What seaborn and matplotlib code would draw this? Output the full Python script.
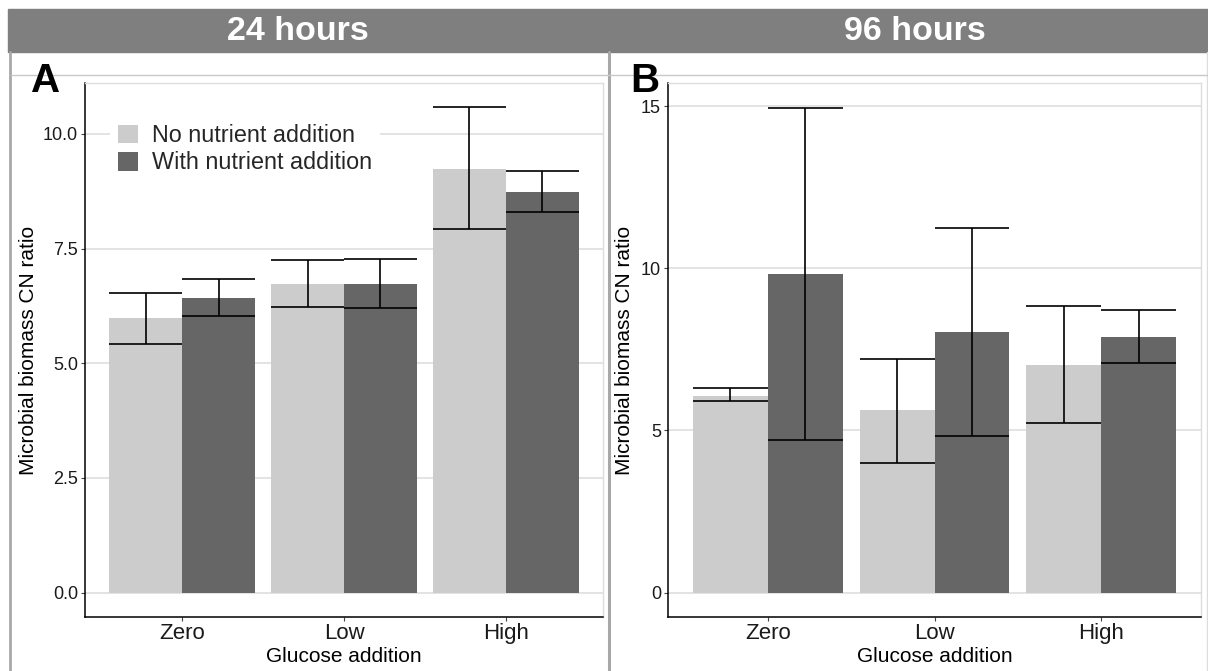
import numpy as np
import pandas as pd
import matplotlib
matplotlib.use("Agg")
import matplotlib.pyplot as plt
from matplotlib.patches import Rectangle
from matplotlib.lines import Line2D
from matplotlib.ticker import MultipleLocator
import seaborn as sns

# ---------------- data ----------------
glucose = ["Zero", "Low", "High"]
nutrient = ["No nutrient addition", "With nutrient addition"]

# 24 hours (panel A)
a_no_mean = [5.98, 6.73, 9.24]
a_no_lo = [5.43, 6.22, 7.92]
a_no_hi = [6.54, 7.25, 10.58]
a_with_mean = [6.43, 6.73, 8.73]
a_with_lo = [6.04, 6.20, 8.30]
a_with_hi = [6.84, 7.28, 9.20]

# 96 hours (panel B)
b_no_mean = [6.05, 5.62, 7.03]
b_no_lo = [5.92, 4.00, 5.24]
b_no_hi = [6.32, 7.21, 8.85]
b_with_mean = [9.83, 8.04, 7.89]
b_with_lo = [4.72, 4.82, 7.09]
b_with_hi = [14.95, 11.23, 8.70]

strip_titles = ["24 hours", "96 hours"]
panel_tags = ["A", "B"]

light = "#CCCCCC"
dark = "#666666"

def make_df(nm, nl, nh, wm, wl, wh):
    return pd.DataFrame({
        "glucose": glucose + glucose,
        "nutrient": [nutrient[0]] * 3 + [nutrient[1]] * 3,
        "mean": nm + wm,
        "lo": nl + wl,
        "hi": nh + wh,
    })

df_a = make_df(a_no_mean, a_no_lo, a_no_hi, a_with_mean, a_with_lo, a_with_hi)
df_b = make_df(b_no_mean, b_no_lo, b_no_hi, b_with_mean, b_with_lo, b_with_hi)

# ---------------- figure ----------------
sns.set_style("white")
plt.rcParams["font.family"] = ["Liberation Sans", "DejaVu Sans"]

W, H = 1208, 671
fig = plt.figure(figsize=(W / 100, H / 100), dpi=100)
fig.patch.set_facecolor("white")

def fx(x):
    return x / W

def fy(y):
    return 1 - y / H

# strip
fig.patches.append(Rectangle((fx(8), fy(52)), fx(1208 - 8), (52 - 9) / H,
                             transform=fig.transFigure, color="#7F7F7F", zorder=0))
# frame lines
fig.lines.append(Line2D([fx(10), fx(10)], [fy(52), fy(671)], transform=fig.transFigure,
                        color="#A8A8A8", lw=2.0))
fig.lines.append(Line2D([fx(608.5), fx(608.5)], [fy(52), fy(671)], transform=fig.transFigure,
                        color="#A8A8A8", lw=2.2))
fig.lines.append(Line2D([fx(1207), fx(1207)], [fy(52), fy(671)], transform=fig.transFigure,
                        color="#DDDDDD", lw=1.0))
fig.lines.append(Line2D([fx(11), fx(1207)], [fy(75), fy(75)], transform=fig.transFigure,
                        color="#C8C8C8", lw=1.0))

for cx, t in zip([298, 915], strip_titles):
    fig.text(fx(cx), fy(31), t, color="white", fontsize=24.5, fontweight="bold",
             ha="center", va="center")
for tx, t in zip([31, 630], panel_tags):
    fig.text(fx(tx), fy(92), t, color="black", fontsize=29, fontweight="bold",
             ha="left", va="baseline")

axA = fig.add_axes([fx(85), fy(617), (603 - 85) / W, (617 - 83) / H])
axB = fig.add_axes([fx(668), fy(617), (1201 - 668) / W, (617 - 83) / H])

def draw(ax, df, ylim, step, ylab_x, legend):
    sns.barplot(data=df, x="glucose", y="mean", hue="nutrient", order=glucose,
                hue_order=nutrient, palette=[light, dark], width=0.9, gap=0,
                errorbar=None, saturation=1, linewidth=0, ax=ax, legend=legend,
                zorder=2)
    for ci, cont in enumerate(ax.containers):
        for bar in cont:
            x0 = bar.get_x()
            w = bar.get_width()
            xc = x0 + w / 2
            gi = int(round(xc))
            row = df[(df["glucose"] == glucose[gi]) & (df["nutrient"] == nutrient[ci])].iloc[0]
            ax.vlines(xc, row["lo"], row["hi"], color="black", lw=1.2, zorder=3)
            ax.hlines([row["lo"], row["hi"]], x0, x0 + w, color="black", lw=1.2, zorder=3)
    ax.set_xlim(-0.6, 2.6)
    ax.set_ylim(*ylim)
    ax.yaxis.set_major_locator(MultipleLocator(step))
    ax.grid(axis="y", color="#DEDEDE", lw=1.2, zorder=0)
    ax.set_axisbelow(True)
    for s in ["top", "right"]:
        ax.spines[s].set_color("#DDDDDD")
        ax.spines[s].set_linewidth(1.0)
    for s in ["left", "bottom"]:
        ax.spines[s].set_color("black")
        ax.spines[s].set_linewidth(1.1)
    ax.tick_params(axis="y", labelsize=13, length=3, width=0.8, color="#444444",
                   pad=2, labelcolor="#1A1A1A", left=True)
    ax.tick_params(axis="x", labelsize=16, length=3, width=0.8, color="#444444",
                   pad=1.5, labelcolor="#1A1A1A", bottom=True)
    ax.set_ylabel("Microbial biomass CN ratio", fontsize=15, color="black")
    ax.set_xlabel("Glucose addition", fontsize=15, color="black")
    ax.yaxis.set_label_coords(ylab_x, 0.5)
    ax.xaxis.set_label_coords(0.5, (617 - 657) / 534)
    ax.yaxis.label.set_va("center")
    ax.xaxis.label.set_va("center")

draw(axA, df_a, (-0.53, 11.11), 2.5, (29 - 85) / 518, True)
draw(axB, df_b, (-0.75, 15.71), 5, (624 - 668) / 533, False)

handles, labels = axA.get_legend_handles_labels()
leg = axA.legend(handles, labels, loc="upper left",
                 bbox_to_anchor=(fx(110), fy(116)), bbox_transform=fig.transFigure,
                 fontsize=16.8, frameon=True, facecolor="white", edgecolor="none",
                 framealpha=1, fancybox=False, handlelength=0.85, handleheight=0.85,
                 handletextpad=0.6, labelspacing=0.18, borderpad=0.35,
                 borderaxespad=0)
leg.set_zorder(5)

fig.savefig("out.png", dpi=100)
